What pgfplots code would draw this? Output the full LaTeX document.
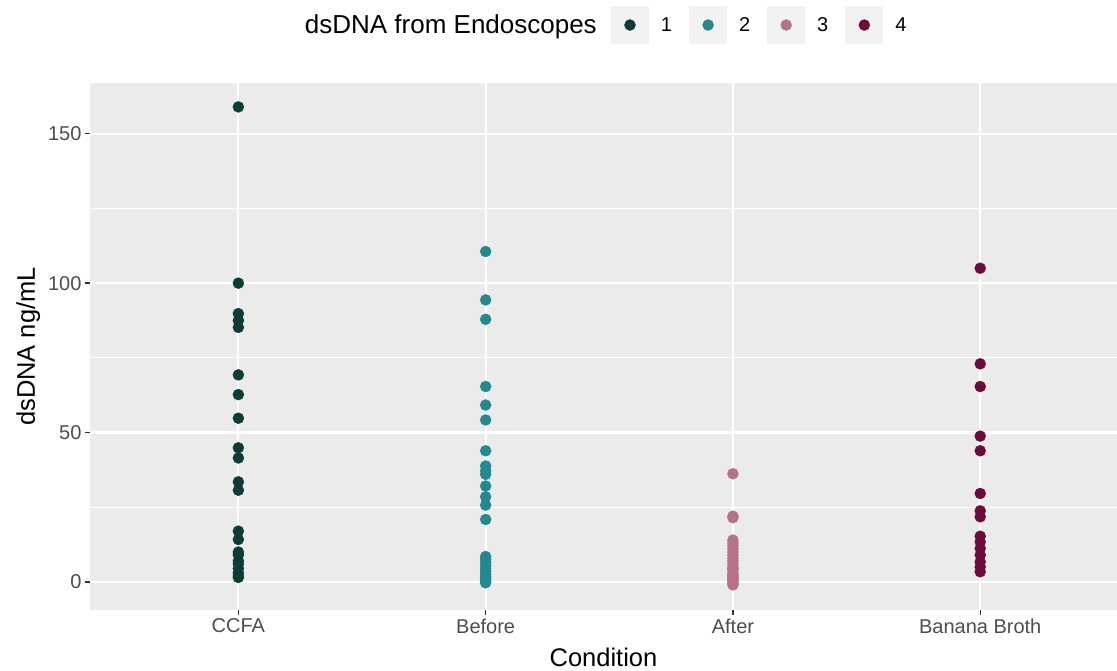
\documentclass[border=0pt]{standalone}
\usepackage{fontspec}
\setmainfont{Liberation Sans}
\usepackage{pgfplots}
\pgfplotsset{compat=1.18}
\definecolor{cA}{HTML}{0E3B37}
\definecolor{cB}{HTML}{23898E}
\definecolor{cC}{HTML}{B5728A}
\definecolor{cD}{HTML}{6D0B3C}
\definecolor{panel}{HTML}{EBEBEB}
\definecolor{keybg}{HTML}{F2F2F2}
\definecolor{grey30}{HTML}{4D4D4D}
\definecolor{grey20}{HTML}{333333}
\begin{document}
\begin{tikzpicture}
\useasboundingbox (-90pt,-60pt) rectangle (1027pt,610pt);
\begin{axis}[
  at={(0,0)}, anchor=south west,
  scale only axis, width=1027pt, height=527pt,
  xmin=-0.6, xmax=3.553, ymin=-9.4, ymax=167,
  xtick={0,1,2,3}, xticklabels={CCFA,Before,After,Banana Broth},
  ytick={0,50,100,150}, minor ytick={25,75,125},
  /pgf/number format/assume math mode=true,
  tick pos=left, tick align=outside, major tick length=5pt, minor tick length=0pt,
  tick style={color=grey20, line width=1.4pt},
  tick label style={font=\fontsize{20}{24}\selectfont, color=grey30},
  axis background/.style={fill=panel},
  axis line style={draw=none},
  xmajorgrids=true, ymajorgrids=true, yminorgrids=true,
  major grid style={white, line width=2.1pt},
  minor grid style={white, line width=1pt},
  xlabel={Condition}, ylabel={dsDNA ng/mL},
  label style={font=\fontsize{25.5}{30}\selectfont},
  xlabel style={at={(axis description cs:0.5,-0.1063)}, anchor=base},
  ylabel style={at={(axis description cs:-0.0536,0.5)}, anchor=base, rotate=0},
  legend columns=-1,
  legend image code/.code={%
    \fill[keybg, draw=none] (0pt,-19pt) rectangle (38pt,19pt);
    \draw[mark repeat=2,mark phase=2] plot coordinates {(0pt,0pt) (19pt,0pt) (38pt,0pt)};},
  legend style={draw=none, fill=none, inner sep=0pt, outer sep=0pt,
    at={(axis description cs:0.5073,1.110)}, anchor=west,
    font=\fontsize{20}{24}\selectfont,
    nodes={inner sep=0pt},
    /tikz/every odd column/.append style={column sep=12pt},
    /tikz/every even column/.append style={column sep=17pt}},
  every axis plot/.append style={only marks, mark=*, mark size=5.5pt},
]
\addplot[cA, mark options={draw=cA, fill=cA}] coordinates {
(0,159) (0,100) (0,89.8) (0,87.5) (0,85.2) (0,69.3) (0,62.7) (0,54.8) (0,44.9) (0,41.5)
(0,33.5) (0,30.7) (0,17) (0,14.2) (0,10) (0,9) (0,7) (0,6) (0,4.5) (0,3) (0,2) (0,1.5)};
\addlegendentry{1}
\addplot[cB, mark options={draw=cB, fill=cB}] coordinates {
(1,110.6) (1,94.4) (1,87.9) (1,65.4) (1,59.2) (1,54.2) (1,43.9) (1,38.8) (1,37.2) (1,36)
(1,32.1) (1,28.5) (1,25.7) (1,20.9) (1,8.5) (1,7.5) (1,6.5) (1,5.5) (1,4.5) (1,3.5)
(1,2.5) (1,1.8) (1,1.2) (1,0.6) (1,0.2) (1,-0.3)};
\addlegendentry{2}
\addplot[cC, mark options={draw=cC, fill=cC}] coordinates {
(2,36.2) (2,22) (2,21.5) (2,14) (2,13) (2,12) (2,11) (2,10) (2,9) (2,8) (2,7) (2,6)
(2,5) (2,4.5) (2,4) (2,3) (2,2.5) (2,2) (2,1.5) (2,1) (2,0.5) (2,0) (2,-0.5) (2,-1)};
\addlegendentry{3}
\addplot[cD, mark options={draw=cD, fill=cD}] coordinates {
(3,105) (3,73) (3,65.4) (3,48.8) (3,43.9) (3,29.6) (3,23.8) (3,21.8) (3,15.3) (3,13.4)
(3,11.2) (3,9) (3,6.7) (3,5) (3,3.4)};
\addlegendentry{4}
\end{axis}
\node[anchor=base east, inner sep=0pt, font=\fontsize{26}{31}\selectfont]
  at (507pt,576pt) {dsDNA from Endoscopes};
\end{tikzpicture}
\end{document}
